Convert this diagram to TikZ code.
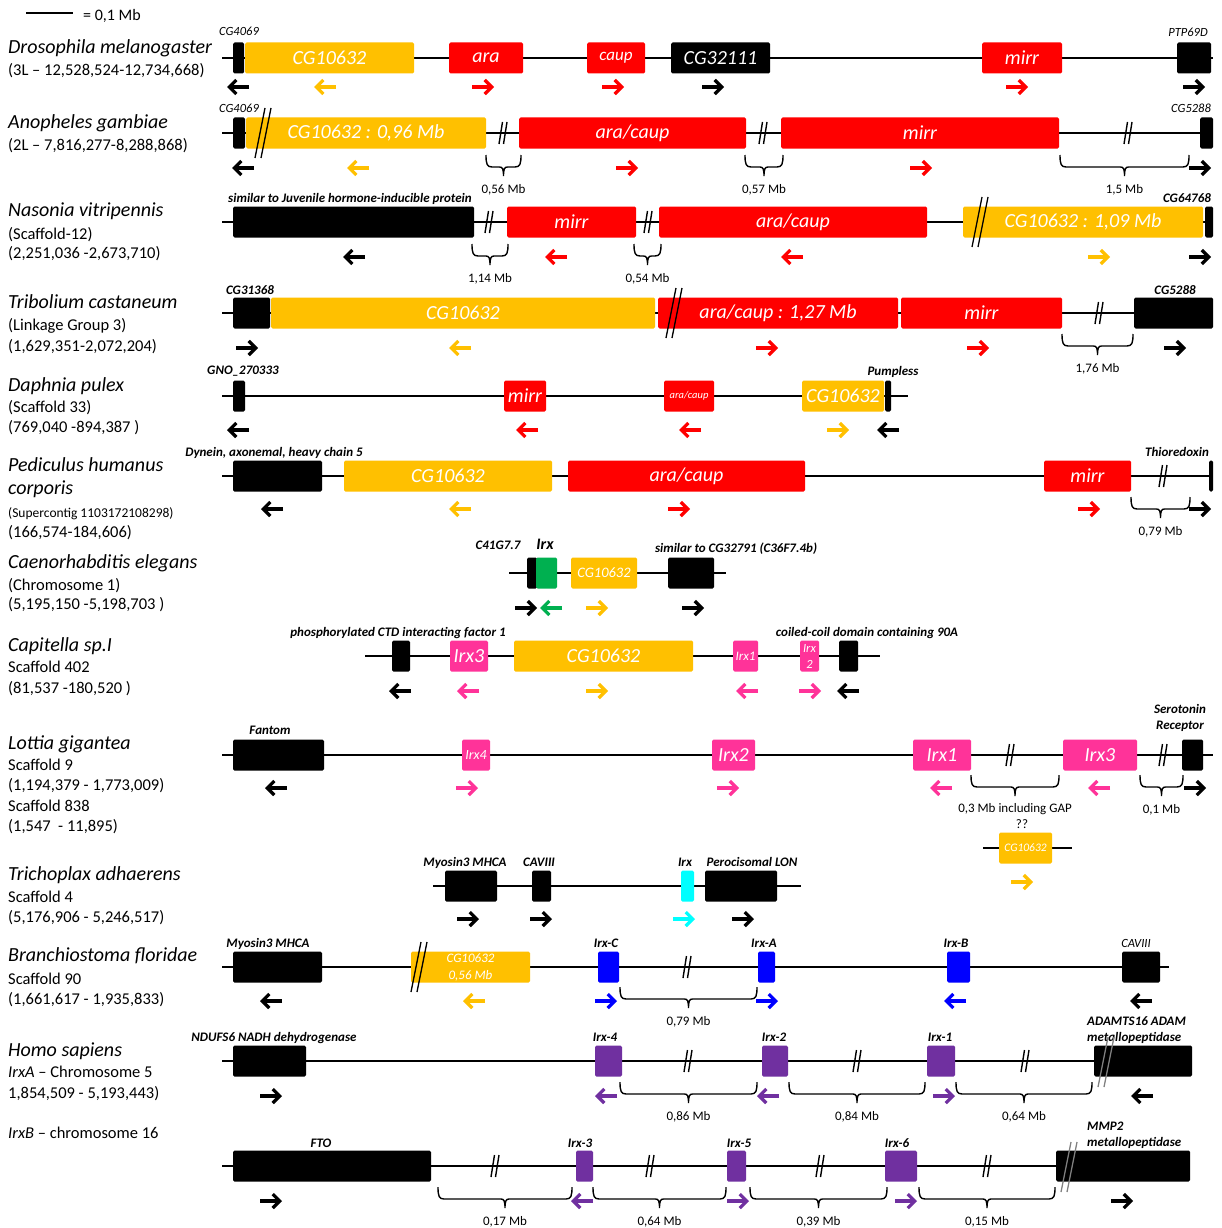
\documentclass[tikz,border=0pt]{standalone}
\usepackage{fontspec}
\setmainfont{Carlito}
\usetikzlibrary{arrows.meta}
\definecolor{gor}{HTML}{FFC000}
\definecolor{grd}{HTML}{FF0000}
\definecolor{gpk}{HTML}{FF3399}
\definecolor{ggn}{HTML}{00B050}
\definecolor{gbl}{HTML}{0000FF}
\definecolor{gpu}{HTML}{7030A0}
\definecolor{gcy}{HTML}{00FFFF}
\definecolor{ggy}{HTML}{808080}
\newcommand\fsp{\fontsize{20}{22}\selectfont\itshape}
\newcommand\fsub{\fontsize{16.5}{18}\selectfont}
\newcommand\fsubs{\fontsize{13.5}{15}\selectfont}
\newcommand\fgn{\fontsize{20}{22}\selectfont\itshape}
\newcommand\flb{\fontsize{13}{15.5}\selectfont\bfseries\itshape}
\newcommand\fli{\fontsize{12.5}{14}\selectfont\itshape}
\newcommand\fbr{\fontsize{13}{15}\selectfont}
\tikzset{
 chrom/.style={line width=1.6pt},
 gbox/.style={rounded corners=1.5pt, minimum height=31pt, inner sep=0pt, text=white, align=center},
 arr/.style={line width=3.2pt, -{Straight Barb[length=7pt,width=14pt]}},
 brkl/.style={line width=1.4pt},
 bigbrk/.style={line width=1.3pt},
 brl/.style={line width=1.4pt},
 brlab/.style={font=\fbr, inner sep=0pt, yshift=-1.5pt},
 sp/.style={anchor=west, inner sep=0pt, text height=0.7em, text depth=0.25em, yshift=-4pt},
 lab/.style={inner sep=0pt, font=\flb, text height=0.7em, text depth=0.25em, yshift=-2pt},
 labi/.style={inner sep=0pt, font=\fli, text height=0.7em, text depth=0.25em, yshift=-2pt},
}
% name, x1, x2, y, colour, text, font
\newcommand\mygene[7]{\node[gbox,fill=#5,minimum width={(#3-#2)*1pt},font=#7] (#1) at ({(#2+#3)/2},#4) {#6};}
% name, x1, x2, y
\newcommand\mychrom[4]{\coordinate (#1a) at (#2,#4); \coordinate (#1b) at (#3,#4); \draw[chrom] (#1a) -- (#1b);}
% x, y, colour, dir
\newcommand\myarr[4]{\draw[arr,#3] ({#1-11*(#4)},#2) -- ({#1+11*(#4)},#2);}
\newcommand\mybrk[2]{\draw[brkl] (#1-4,#2+11) -- (#1-0.5,#2-11) (#1+0.5,#2+11) -- (#1+4,#2-11);}
\newcommand\mybig[3]{\draw[bigbrk,#3] (#1-8,#2+25) -- (#1+2,#2-25) (#1-2,#2+25) -- (#1+8,#2-25);}
\newcommand\mybrace[4]{%
 \draw[brl] (#1,#3) .. controls (#1,#3+9) and (#1+1,#3+12) .. (#1+6,#3+12) -- ({(#1+#2)/2-4},#3+12)
   .. controls ({(#1+#2)/2-1},#3+12) and ({(#1+#2)/2},#3+14) .. ({(#1+#2)/2},#3+21)
   .. controls ({(#1+#2)/2},#3+14) and ({(#1+#2)/2+1},#3+12) .. ({(#1+#2)/2+4},#3+12)
   -- (#2-6,#3+12) .. controls (#2-1,#3+12) and (#2,#3+9) .. (#2,#3);
 \node[brlab] at ({(#1+#2)/2},#3+33) {#4};}
\begin{document}
\begin{tikzpicture}[x=1pt,y=-1pt]
\useasboundingbox (0,0) rectangle (1221,1228);
\fill[white] (0,0) rectangle (1221,1228);

% scale
\coordinate (sca) at (26,13); \coordinate (scb) at (73,13);
\draw[line width=1.5pt] (sca) -- (scb);
\node[sp,font=\fontsize{16}{18}\selectfont] (scl) at (83,14) {= 0,1 Mb};

% species labels
\node[sp,font=\fsp] (sp1) at (8,47) {Drosophila melanogaster};
\node[sp,font=\fsub] (sp1b) at (8,69) {(3L – 12,528,524-12,734,668)};
\node[sp,font=\fsp] (sp2) at (8,122) {Anopheles gambiae};
\node[sp,font=\fsub] (sp2b) at (8,144) {(2L – 7,816,277-8,288,868)};
\node[sp,font=\fsp] (sp3) at (8,210) {Nasonia vitripennis};
\node[sp,font=\fsub] (sp3b) at (8,233) {(Scaffold-12)};
\node[sp,font=\fsub] (sp3c) at (8,252) {(2,251,036 -2,673,710)};
\node[sp,font=\fsp] (sp4) at (8,302) {Tribolium castaneum};
\node[sp,font=\fsub] (sp4b) at (8,324) {(Linkage Group 3)};
\node[sp,font=\fsub] (sp4c) at (8,345) {(1,629,351-2,072,204)};
\node[sp,font=\fsp] (sp5) at (8,385) {Daphnia pulex};
\node[sp,font=\fsub] (sp5b) at (8,406) {(Scaffold 33)};
\node[sp,font=\fsub] (sp5c) at (8,426) {(769,040 -894,387 )};
\node[sp,font=\fsp] (sp6) at (8,465) {Pediculus humanus};
\node[sp,font=\fsp] (sp6a) at (8,488) {corporis};
\node[sp,font=\fsubs] (sp6b) at (8,511) {(Supercontig 1103172108298)};
\node[sp,font=\fsub] (sp6c) at (8,531) {(166,574-184,606)};
\node[sp,font=\fsp] (sp7) at (8,562) {Caenorhabditis elegans};
\node[sp,font=\fsub] (sp7b) at (8,584) {(Chromosome 1)};
\node[sp,font=\fsub] (sp7c) at (8,603) {(5,195,150 -5,198,703 )};
\node[sp,font=\fsp] (sp8) at (8,645) {Capitella sp.I};
\node[sp,font=\fsub] (sp8b) at (8,666) {Scaffold 402};
\node[sp,font=\fsub] (sp8c) at (8,687) {(81,537 -180,520 )};
\node[sp,font=\fsp] (sp9) at (8,743) {Lottia gigantea};
\node[sp,font=\fsub] (sp9b) at (8,764) {Scaffold 9};
\node[sp,font=\fsub] (sp9c) at (8,784) {(1,194,379 - 1,773,009)};
\node[sp,font=\fsub] (sp9d) at (8,805) {Scaffold 838};
\node[sp,font=\fsub] (sp9e) at (8,825) {(1,547 \ - 11,895)};
\node[sp,font=\fsp] (sp10) at (8,874) {Trichoplax adhaerens};
\node[sp,font=\fsub] (sp10b) at (8,896) {Scaffold 4};
\node[sp,font=\fsub] (sp10c) at (8,916) {(5,176,906 - 5,246,517)};
\node[sp,font=\fsp] (sp11) at (8,955) {Branchiostoma floridae};
\node[sp,font=\fsub] (sp11b) at (8,978) {Scaffold 90};
\node[sp,font=\fsub] (sp11c) at (8,998) {(1,661,617 - 1,935,833)};
\node[sp,font=\fsp] (sp12) at (8,1050) {Homo sapiens};
\node[sp,font=\fsub] (sp12b) at (8,1071) {\textit{IrxA} – Chromosome 5};
\node[sp,font=\fsub] (sp12c) at (8,1092) {1,854,509 - 5,193,443)};
\node[sp,font=\fsub] (sp13) at (8,1132) {\textit{IrxB} – chromosome 16};

% ---------- Row 1 Drosophila
\mychrom{c1}{222}{1213}{58}
\mygene{d1}{233}{244}{58}{black}{}{\fgn}
\mygene{d2}{245}{414}{58}{gor}{CG10632}{\fgn}
\mygene{d3}{449}{523}{58}{grd}{ara}{\fgn}
\mygene{d4}{587}{645}{58}{grd}{caup}{\fontsize{17}{19}\selectfont\itshape}
\mygene{d5}{671}{770}{58}{black}{CG32111}{\fgn}
\mygene{d6}{982}{1062}{58}{grd}{mirr}{\fgn}
\mygene{d7}{1177}{1211}{58}{black}{}{\fgn}
\node[labi] (ld1) at (239,31) {CG4069};
\node[labi] (ld7) at (1188,32) {PTP69D};
\myarr{238}{87}{black}{-1}\myarr{325}{87}{gor}{-1}\myarr{483}{87}{grd}{1}\myarr{613}{87}{grd}{1}
\myarr{713}{87}{black}{1}\myarr{1017}{87}{grd}{1}\myarr{1194}{87}{black}{1}

% ---------- Row 2 Anopheles
\mychrom{c2}{222}{1213}{133}
\mygene{a1}{233}{245}{133}{black}{}{\fgn}
\mygene{a2}{246}{486}{133}{gor}{CG10632 : 0,96 Mb}{\fgn}
\mygene{a3}{519}{746}{133}{grd}{ara/caup}{\fgn}
\mygene{a4}{781}{1059}{133}{grd}{mirr}{\fgn}
\mygene{a5}{1200}{1213}{133}{black}{}{\fgn}
\node[labi] (la1) at (239,108) {CG4069};
\node[labi] (la5) at (1191,108) {CG5288};
\mybig{263}{133}{black}
\mybrk{503}{133}\mybrk{763}{133}\mybrk{1128}{133}
\mybrace{486}{521}{155}{0,56 Mb}
\mybrace{745}{783}{155}{0,57 Mb}
\mybrace{1060}{1189}{155}{1,5 Mb}
\myarr{243}{168}{black}{-1}\myarr{358}{168}{gor}{-1}\myarr{627}{168}{grd}{1}\myarr{921}{168}{grd}{1}\myarr{1200}{168}{black}{1}

% ---------- Row 3 Nasonia
\mychrom{c3}{222}{1213}{222}
\mygene{n1}{233}{474}{222}{black}{}{\fgn}
\mygene{n2}{507}{636}{222}{grd}{mirr}{\fgn}
\mygene{n3}{659}{927}{222}{grd}{ara/caup}{\fgn}
\mygene{n4}{963}{1203}{222}{gor}{CG10632 : 1,09 Mb}{\fgn}
\mygene{n5}{1205}{1213}{222}{black}{}{\fgn}
\node[lab] (ln1) at (350,198) {similar to Juvenile hormone-inducible protein};
\node[lab] (ln5) at (1187,198) {CG64768};
\mybig{980}{222}{black}
\mybrk{489}{222}\mybrk{648}{222}
\mybrace{472}{508}{244}{1,14 Mb}
\mybrace{634}{661}{244}{0,54 Mb}
\myarr{354}{257}{black}{-1}\myarr{556}{257}{grd}{-1}\myarr{792}{257}{grd}{-1}\myarr{1099}{257}{gor}{1}\myarr{1200}{257}{black}{1}

% ---------- Row 4 Tribolium
\mychrom{c4}{222}{1213}{313}
\mygene{t1}{233}{270}{313}{black}{}{\fgn}
\mygene{t2}{271}{655}{313}{gor}{CG10632}{\fgn}
\mygene{t3}{658}{898}{313}{grd}{ara/caup : 1,27 Mb}{\fgn}
\mygene{t4}{901}{1062}{313}{grd}{mirr}{\fgn}
\mygene{t5}{1134}{1213}{313}{black}{}{\fgn}
\node[lab] (lt1) at (250,290) {CG31368};
\node[lab] (lt5) at (1175,290) {CG5288};
\mybig{674}{313}{black}
\mybrk{1099}{313}
\mybrace{1062}{1133}{334}{1,76 Mb}
\myarr{247}{348}{black}{1}\myarr{460}{348}{gor}{-1}\myarr{767}{348}{grd}{1}\myarr{978}{348}{grd}{1}\myarr{1175}{348}{black}{1}

% ---------- Row 5 Daphnia
\mychrom{c5}{222}{908}{396}
\mygene{p1}{233}{245}{396}{black}{}{\fgn}
\mygene{p2}{504}{546}{396}{grd}{mirr}{\fgn}
\mygene{p3}{664}{714}{396}{grd}{ara/caup}{\fontsize{10.5}{12}\selectfont\itshape}
\mygene{p4}{802}{884}{396}{gor}{CG10632}{\fgn}
\mygene{p5}{885}{891}{396}{black}{}{\fgn}
\node[lab] (lp1) at (243,370) {GNO\_270333};
\node[lab] (lp5) at (893,371) {Pumpless};
\myarr{238}{430}{black}{-1}\myarr{527}{430}{grd}{-1}\myarr{690}{430}{grd}{-1}\myarr{838}{430}{gor}{1}\myarr{888}{430}{black}{-1}

% ---------- Row 6 Pediculus
\mychrom{c6}{222}{1213}{476}
\mygene{h1}{233}{322}{476}{black}{}{\fgn}
\mygene{h2}{344}{552}{476}{gor}{CG10632}{\fgn}
\mygene{h3}{568}{805}{476}{grd}{ara/caup}{\fgn}
\mygene{h4}{1044}{1131}{476}{grd}{mirr}{\fgn}
\mygene{h5}{1209}{1213}{476}{black}{}{\fgn}
\node[lab] (lh1) at (274,452) {Dynein, axonemal, heavy chain 5};
\node[lab] (lh5) at (1177,452) {Thioredoxin};
\mybrk{1163}{476}
\mybrace{1131}{1190}{497}{0,79 Mb}
\myarr{272}{509}{black}{-1}\myarr{460}{509}{gor}{-1}\myarr{679}{509}{grd}{1}\myarr{1089}{509}{grd}{1}\myarr{1200}{509}{black}{1}

% ---------- Row 7 C. elegans
\mychrom{c7}{509}{726}{573}
\mygene{e1}{527}{537}{573}{black}{}{\fgn}
\mygene{e2}{536}{557}{573}{ggn}{}{\fgn}
\mygene{e3}{571}{637}{573}{gor}{CG10632}{\fontsize{14.5}{16}\selectfont\itshape}
\mygene{e4}{668}{714}{573}{black}{}{\fgn}
\node[lab] (le1) at (498,545) {C41G7.7};
\node[lab,font=\fontsize{16}{18}\selectfont\bfseries\itshape] (le2) at (545,545) {Irx};
\node[lab] (le4) at (736,548) {similar to CG32791 (C36F7.4b)};
\myarr{526}{608}{black}{1}\myarr{551}{608}{ggn}{-1}\myarr{597}{608}{gor}{1}\myarr{693}{608}{black}{1}

% ---------- Row 8 Capitella
\mychrom{c8}{365}{880}{656}
\mygene{k1}{392}{410}{656}{black}{}{\fgn}
\mygene{k2}{450}{488}{656}{gpk}{Irx3}{\fgn}
\mygene{k3}{514}{693}{656}{gor}{CG10632}{\fgn}
\mygene{k4}{733}{758}{656}{gpk}{Irx1}{\fontsize{13}{15}\selectfont\itshape}
\mygene{k5}{800}{819}{656}{gpk}{Irx\\2}{\fontsize{12.5}{16}\selectfont\itshape}
\mygene{k6}{839}{858}{656}{black}{}{\fgn}
\node[lab] (lk1) at (398,632) {phosphorylated CTD interacting factor 1};
\node[lab] (lk6) at (867,632) {coiled-coil domain containing 90A};
\myarr{400}{691}{black}{-1}\myarr{468}{691}{gpk}{-1}\myarr{597}{691}{gor}{1}\myarr{747}{691}{gpk}{-1}\myarr{810}{691}{gpk}{1}\myarr{848}{691}{black}{-1}

% ---------- Row 9 Lottia
\mychrom{c9}{222}{1213}{755}
\mygene{l1}{233}{324}{755}{black}{}{\fgn}
\mygene{l2}{462}{490}{755}{gpk}{Irx4}{\fontsize{14}{16}\selectfont\itshape}
\mygene{l3}{712}{755}{755}{gpk}{Irx2}{\fgn}
\mygene{l4}{913}{971}{755}{gpk}{Irx1}{\fgn}
\mygene{l5}{1063}{1137}{755}{gpk}{Irx3}{\fgn}
\mygene{l6}{1182}{1203}{755}{black}{}{\fgn}
\node[lab] (ll1) at (270,730) {Fantom};
\node[lab,text height=,text depth=,align=center] (ll6) at (1180,716) {Serotonin\\Receptor};
\mybrk{1010}{755}\mybrk{1163}{755}
\mybrace{971}{1059}{775}{0,3 Mb including GAP}
\node[brlab] (lq) at (1022,823) {??};
\mybrace{1140}{1183}{775}{0,1 Mb}
\myarr{276}{788}{black}{-1}\myarr{467}{788}{gpk}{1}\myarr{728}{788}{gpk}{1}\myarr{941}{788}{gpk}{-1}\myarr{1099}{788}{gpk}{-1}\myarr{1195}{788}{black}{1}
% extra CG10632
\mychrom{c9x}{983}{1072}{848}
\mygene{l7}{999}{1052}{848}{gor}{CG10632}{\fontsize{11.5}{13}\selectfont\itshape}
\myarr{1022}{882}{gor}{1}

% ---------- Row 10 Trichoplax
\mychrom{c10}{433}{801}{886}
\mygene{r1}{445}{497}{886}{black}{}{\fgn}
\mygene{r2}{532}{551}{886}{black}{}{\fgn}
\mygene{r3}{681}{694}{886}{gcy}{}{\fgn}
\mygene{r4}{705}{777}{886}{black}{}{\fgn}
\node[lab] (lr1) at (465,862) {Myosin3 MHCA};
\node[lab] (lr2) at (539,862) {CAVIII};
\node[lab] (lr3) at (685,862) {Irx};
\node[lab] (lr4) at (752,862) {Perocisomal LON};
\myarr{468}{919}{black}{1}\myarr{541}{919}{black}{1}\myarr{684}{919}{gcy}{1}\myarr{743}{919}{black}{1}

% ---------- Row 11 Branchiostoma
\mychrom{c11}{222}{1169}{967}
\mygene{b1}{233}{322}{967}{black}{}{\fgn}
\mygene{b2}{411}{530}{967}{gor}{CG10632\\0,56 Mb}{\fontsize{13}{17}\selectfont\itshape}
\mygene{b3}{598}{619}{967}{gbl}{}{\fgn}
\mygene{b4}{758}{775}{967}{gbl}{}{\fgn}
\mygene{b5}{947}{970}{967}{gbl}{}{\fgn}
\mygene{b6}{1122}{1160}{967}{black}{}{\fgn}
\node[lab] (lb1) at (268,943) {Myosin3 MHCA};
\node[lab] (lb3) at (606,943) {Irx-C};
\node[lab] (lb4) at (764,943) {Irx-A};
\node[lab] (lb5) at (956,943) {Irx-B};
\node[labi] (lb6) at (1136,943) {CAVIII};
\mybig{419}{967}{black}
\mybrk{687}{967}
\mybrace{620}{757}{987}{0,79 Mb}
\myarr{271}{1001}{black}{-1}\myarr{474}{1001}{gor}{-1}\myarr{606}{1001}{gbl}{1}\myarr{767}{1001}{gbl}{1}\myarr{955}{1001}{gbl}{-1}\myarr{1141}{1001}{black}{-1}

% ---------- Row 12 Homo IrxA
\mychrom{c12}{222}{1192}{1061}
\mygene{m1}{233}{306}{1061}{black}{}{\fgn}
\mygene{m2}{595}{622}{1061}{gpu}{}{\fgn}
\mygene{m3}{762}{788}{1061}{gpu}{}{\fgn}
\mygene{m4}{927}{955}{1061}{gpu}{}{\fgn}
\mygene{m5}{1094}{1192}{1061}{black}{}{\fgn}
\node[lab] (lm1) at (274,1037) {NDUFS6 NADH dehydrogenase};
\node[lab] (lm2) at (605,1037) {Irx-4};
\node[lab] (lm3) at (774,1037) {Irx-2};
\node[lab] (lm4) at (940,1037) {Irx-1};
\node[lab,text height=,text depth=,align=left,anchor=west] (lm5) at (1087,1028) {ADAMTS16 ADAM\\metallopeptidase};
\mybig{1106}{1062}{ggy}
\mybrk{688}{1061}\mybrk{857}{1061}\mybrk{1025}{1061}
\mybrace{620}{757}{1082}{0,86 Mb}
\mybrace{789}{925}{1082}{0,84 Mb}
\mybrace{956}{1092}{1082}{0,64 Mb}
\myarr{271}{1096}{black}{1}\myarr{606}{1096}{gpu}{-1}\myarr{768}{1096}{gpu}{-1}\myarr{944}{1096}{gpu}{1}\myarr{1142}{1096}{black}{-1}

% ---------- Row 13 Homo IrxB
\mychrom{c13}{222}{1190}{1166}
\mygene{s1}{233}{431}{1166}{black}{}{\fgn}
\mygene{s2}{576}{593}{1166}{gpu}{}{\fgn}
\mygene{s3}{727}{746}{1166}{gpu}{}{\fgn}
\mygene{s4}{885}{917}{1166}{gpu}{}{\fgn}
\mygene{s5}{1056}{1190}{1166}{black}{}{\fgn}
\node[lab] (ls1) at (321,1143) {FTO};
\node[lab] (ls2) at (580,1143) {Irx-3};
\node[lab] (ls3) at (739,1143) {Irx-5};
\node[lab] (ls4) at (897,1143) {Irx-6};
\node[lab,text height=,text depth=,align=left,anchor=west] (ls5) at (1087,1133) {MMP2\\metallopeptidase};
\mybig{1069}{1167}{ggy}
\mybrk{495}{1166}\mybrk{650}{1166}\mybrk{820}{1166}\mybrk{987}{1166}
\mybrace{438}{572}{1187}{0,17 Mb}
\mybrace{593}{726}{1187}{0,64 Mb}
\mybrace{750}{887}{1187}{0,39 Mb}
\mybrace{919}{1055}{1187}{0,15 Mb}
\myarr{271}{1201}{black}{1}\myarr{582}{1201}{gpu}{-1}\myarr{738}{1201}{gpu}{1}\myarr{906}{1201}{gpu}{1}\myarr{1122}{1201}{black}{1}
\end{tikzpicture}
\end{document}
